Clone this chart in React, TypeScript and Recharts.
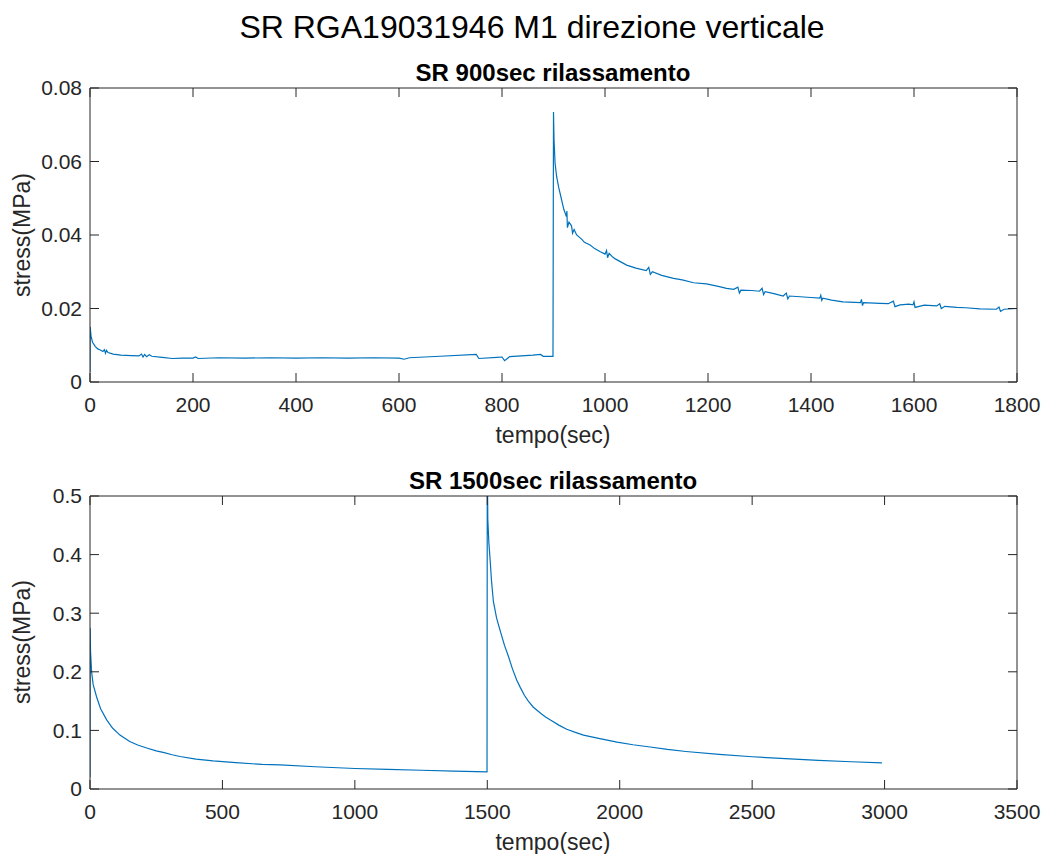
import React from 'react';
import { LineChart, Line, XAxis, YAxis } from 'recharts';

const FONT = '"Liberation Sans", Arial, Helvetica, sans-serif';
const LINE_COLOR = '#0072BD';
const AXIS_COLOR = '#262626';

const mainTitle = 'SR RGA19031946 M1 direzione verticale';
const title1 = 'SR 900sec rilassamento';
const title2 = 'SR 1500sec rilassamento';
const xLabel = 'tempo(sec)';
const yLabel = 'stress(MPa)';

const xTicks1 = [0, 200, 400, 600, 800, 1000, 1200, 1400, 1600, 1800];
const yTicks1 = [0, 0.02, 0.04, 0.06, 0.08];
const xTicks2 = [0, 500, 1000, 1500, 2000, 2500, 3000, 3500];
const yTicks2 = [0, 0.1, 0.2, 0.3, 0.4, 0.5];

const time1 = [
  0, 0.3, 2, 5, 10, 15, 20, 25, 28, 30, 32, 35, 45, 60, 80, 95, 100, 103, 106, 110, 115, 120, 140, 160, 180,
  200, 205, 210, 250, 300, 350, 400, 450, 500, 550, 600, 610, 620, 680, 750, 755, 790, 800, 805, 815, 860,
  875, 880, 899, 900, 901, 903, 906, 910, 915, 920, 925, 926, 927, 930, 935, 937, 940, 945, 955, 960, 971,
  980, 990, 1000, 1003, 1005, 1008, 1015, 1020, 1042, 1060, 1080, 1085, 1088, 1092, 1110, 1133, 1150, 1172,
  1197, 1220, 1236, 1250, 1258, 1261, 1264, 1285, 1300, 1305, 1308, 1311, 1330, 1346, 1352, 1355, 1358,
  1379, 1400, 1417, 1419, 1421, 1423, 1440, 1462, 1496, 1498, 1500, 1502, 1534, 1550, 1560, 1563, 1573,
  1590, 1598, 1600, 1602, 1620, 1644, 1650, 1653, 1660, 1683, 1700, 1728, 1760, 1765, 1768, 1775, 1800,
];
const stress1 = [
  0.0027, 0.015, 0.0125, 0.0108, 0.0097, 0.009, 0.0087, 0.0083, 0.0088, 0.0078, 0.0086, 0.008, 0.0076,
  0.0073, 0.0072, 0.0071, 0.0076, 0.0068, 0.0075, 0.0069, 0.0074, 0.007, 0.0067, 0.0064, 0.0065,
  0.0065, 0.0068, 0.0064, 0.0066, 0.0065, 0.0066, 0.0065, 0.0066, 0.0065, 0.0066, 0.0065, 0.0062, 0.0066,
  0.007, 0.0075, 0.0064, 0.0067, 0.0068, 0.0058, 0.0069, 0.0073,
  0.0075, 0.007, 0.007, 0.0735, 0.066, 0.0596, 0.056, 0.053, 0.05, 0.047, 0.045, 0.0465, 0.042, 0.0435,
  0.0425, 0.0405, 0.0415, 0.04, 0.0388, 0.038, 0.0373,
  0.0363, 0.0355, 0.0348, 0.0358, 0.0338, 0.035, 0.034, 0.0335, 0.0318, 0.031, 0.0303, 0.0312, 0.0293,
  0.03, 0.029, 0.0282, 0.0278, 0.027,
  0.0267, 0.026, 0.0255, 0.0252, 0.0258, 0.0242, 0.025, 0.0249, 0.0247, 0.0255, 0.0238, 0.0246, 0.024,
  0.0234, 0.0242, 0.0226, 0.0234,
  0.0232, 0.023, 0.0228, 0.0236, 0.0222, 0.0228, 0.0223, 0.0218, 0.0216, 0.0225, 0.0208, 0.0216, 0.0214,
  0.0213, 0.022, 0.0205, 0.021,
  0.0212, 0.021, 0.0218, 0.0203, 0.0209, 0.0207, 0.0213, 0.02, 0.0206, 0.0203, 0.0202, 0.0199, 0.0198,
  0.0204, 0.0192, 0.0198, 0.02,
];

const time2 = [
  0, 0.5, 2, 6, 12, 25, 40, 63, 85, 113, 150, 180, 214, 250, 280, 310, 340, 400, 465, 550, 650, 718, 850,
  1000, 1125, 1250, 1375, 1499, 1500, 1502, 1506, 1510, 1516, 1523, 1535, 1548, 1565, 1580, 1595, 1611,
  1625, 1640, 1655, 1673, 1690, 1705, 1720, 1737, 1770, 1800, 1830, 1863, 1925, 1990, 2050, 2115, 2180,
  2250, 2375, 2500, 2625, 2750, 2875, 2990,
];
const stress2 = [
  0.02, 0.275, 0.235, 0.2, 0.178, 0.157, 0.137, 0.118, 0.104, 0.092, 0.081, 0.075, 0.07, 0.065, 0.062,
  0.0585, 0.0555, 0.051, 0.048, 0.045, 0.042, 0.041, 0.038,
  0.035, 0.0335, 0.032, 0.0305, 0.0293, 0.56, 0.46, 0.42, 0.396, 0.355, 0.32, 0.292, 0.271, 0.245, 0.226,
  0.205, 0.186,
  0.173, 0.16, 0.15, 0.14, 0.1335, 0.128, 0.123, 0.118, 0.109, 0.102, 0.097, 0.092, 0.086, 0.08, 0.0755,
  0.0717, 0.0675,
  0.064, 0.059, 0.055, 0.052, 0.049, 0.0465, 0.0445,
];

const data1 = time1.map((t, i) => ({ t, s: stress1[i] }));
const data2 = time2.map((t, i) => ({ t, s: stress2[i] }));

const TICK_LEN = 9;
const EDGE = 10;
const TICK_FONT = 21;
const X_GAP = 15;
const Y_GAP = 8;

const BottomTick = (props: any) => {
  const { x, y, payload } = props;
  const axisY = y - X_GAP;
  return (
    <g>
      <line x1={x} x2={x} y1={axisY} y2={axisY - TICK_LEN} stroke={AXIS_COLOR} strokeWidth={1} />
      <text x={x} y={y} dy="0.71em" textAnchor="middle" fill={AXIS_COLOR} fontSize={TICK_FONT} fontFamily={FONT}>
        {String(payload.value)}
      </text>
    </g>
  );
};

const TopTick = (props: any) => {
  const { x, y } = props;
  return <line x1={x} x2={x} y1={y} y2={y + TICK_LEN} stroke={AXIS_COLOR} strokeWidth={1} />;
};

const LeftTick = (props: any) => {
  const { x, y, payload } = props;
  const axisX = x + Y_GAP;
  return (
    <g>
      <line x1={axisX} x2={axisX + TICK_LEN} y1={y} y2={y} stroke={AXIS_COLOR} strokeWidth={1} />
      <text x={x} y={y} dy="0.355em" textAnchor="end" fill={AXIS_COLOR} fontSize={TICK_FONT} fontFamily={FONT}>
        {String(payload.value)}
      </text>
    </g>
  );
};

const RightTick = (props: any) => {
  const { x, y } = props;
  return <line x1={x} x2={x - TICK_LEN} y1={y} y2={y} stroke={AXIS_COLOR} strokeWidth={1} />;
};

type PanelProps = {
  data: { t: number; s: number }[];
  top: number;
  height: number;
  plotTop: number;
  plotBottom: number;
  xDomain: [number, number];
  xTicks: number[];
  yDomain: [number, number];
  yTicks: number[];
};

function Panel({ data, top, height, plotTop, plotBottom, xDomain, xTicks, yDomain, yTicks }: PanelProps) {
  const axisLine = { stroke: AXIS_COLOR, strokeWidth: 1 };
  return (
    <div style={{ position: 'absolute', left: 0, top, width: 1044, height }}>
      <LineChart
        width={1044}
        height={height}
        data={data}
        margin={{ top: plotTop - EDGE, right: 27 - EDGE, bottom: 0, left: 0 }}
      >
        <XAxis
          xAxisId="b"
          dataKey="t"
          type="number"
          domain={xDomain}
          ticks={xTicks}
          allowDataOverflow
          interval={0}
          orientation="bottom"
          height={height - plotBottom}
          tickSize={0}
          tickMargin={X_GAP}
          tickLine={false}
          axisLine={axisLine}
          tick={BottomTick}
        />
        <XAxis
          xAxisId="t"
          dataKey="t"
          type="number"
          domain={xDomain}
          ticks={xTicks}
          allowDataOverflow
          interval={0}
          orientation="top"
          height={EDGE}
          tickSize={0}
          tickMargin={0}
          tickLine={false}
          axisLine={axisLine}
          tick={TopTick}
        />
        <YAxis
          yAxisId="l"
          type="number"
          domain={yDomain}
          ticks={yTicks}
          allowDataOverflow
          interval={0}
          orientation="left"
          width={90}
          tickSize={0}
          tickMargin={Y_GAP}
          tickLine={false}
          axisLine={axisLine}
          tick={LeftTick}
        />
        <YAxis
          yAxisId="r"
          type="number"
          domain={yDomain}
          ticks={yTicks}
          allowDataOverflow
          interval={0}
          orientation="right"
          width={EDGE}
          tickSize={0}
          tickMargin={0}
          tickLine={false}
          axisLine={axisLine}
          tick={RightTick}
        />
        <Line
          xAxisId="b"
          yAxisId="l"
          type="linear"
          dataKey="s"
          stroke={LINE_COLOR}
          strokeWidth={1.2}
          dot={false}
          activeDot={false}
          isAnimationActive={false}
        />
      </LineChart>
    </div>
  );
}

const centered = (x: number, y: number, extra: React.CSSProperties = {}): React.CSSProperties => ({
  position: 'absolute',
  left: x,
  top: y,
  transform: 'translate(-50%, -50%)',
  whiteSpace: 'nowrap',
  lineHeight: 1,
  ...extra,
});

export default function App() {
  return (
    <div
      style={{
        position: 'absolute',
        left: 0,
        top: 0,
        width: 1044,
        height: 854,
        background: '#ffffff',
        fontFamily: FONT,
        overflow: 'hidden',
      }}
    >
      <Panel
        data={data1}
        top={0}
        height={420}
        plotTop={88}
        plotBottom={382}
        xDomain={[0, 1800]}
        xTicks={xTicks1}
        yDomain={[0, 0.08]}
        yTicks={yTicks1}
      />
      <Panel
        data={data2}
        top={420}
        height={434}
        plotTop={76}
        plotBottom={369}
        xDomain={[0, 3500]}
        xTicks={xTicks2}
        yDomain={[0, 0.5]}
        yTicks={yTicks2}
      />
      <div style={centered(532, 27, { fontSize: 32, color: '#000' })}>{mainTitle}</div>
      <div style={centered(553, 73, { fontSize: 24, fontWeight: 'bold', color: '#000' })}>{title1}</div>
      <div style={centered(553, 481, { fontSize: 24, fontWeight: 'bold', color: '#000' })}>{title2}</div>
      <div style={centered(553, 435, { fontSize: 23, color: AXIS_COLOR })}>{xLabel}</div>
      <div style={centered(553, 842, { fontSize: 23, color: AXIS_COLOR })}>{xLabel}</div>
      <div style={centered(22, 235, { fontSize: 23, color: AXIS_COLOR, transform: 'translate(-50%, -50%) rotate(-90deg)' })}>
        {yLabel}
      </div>
      <div style={centered(22, 642, { fontSize: 23, color: AXIS_COLOR, transform: 'translate(-50%, -50%) rotate(-90deg)' })}>
        {yLabel}
      </div>
    </div>
  );
}
